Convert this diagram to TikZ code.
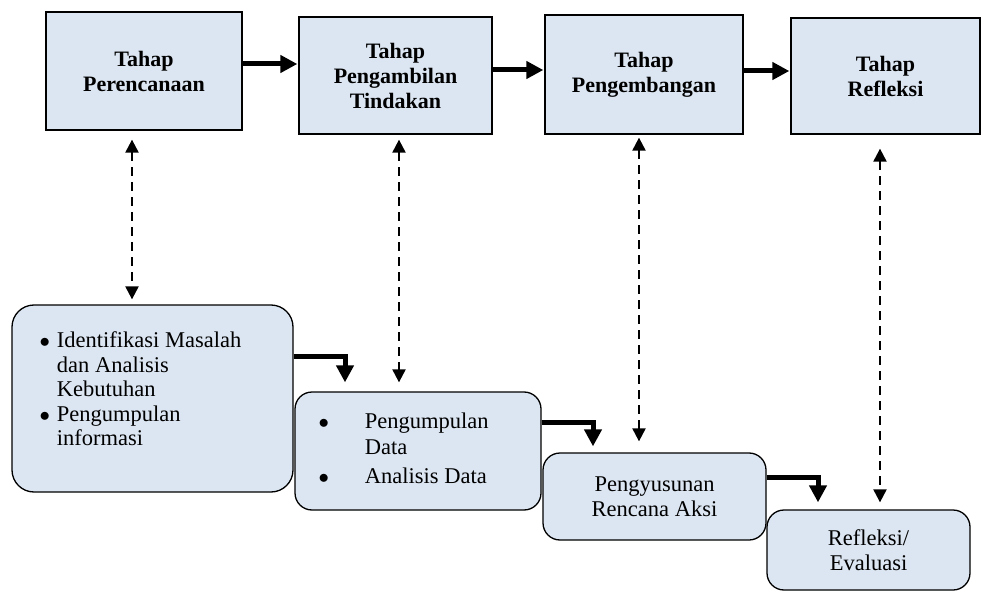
\documentclass[tikz,border=0pt]{standalone}
\usepackage{fontspec}
\setmainfont{Liberation Serif}
\usetikzlibrary{arrows.meta}
\definecolor{boxblue}{RGB}{220,230,242}

\begin{document}
\begin{tikzpicture}[x=1pt,y=-1pt,line join=miter]
        \tikzstyle{stage}=[rectangle,draw=black,line width=1.3pt,fill=boxblue,align=center,inner sep=0pt,font=\fontsize{22}{25}\selectfont\bfseries]
        \tikzstyle{activity}=[stage,rounded corners=17pt,font=\fontsize{22.5}{25}\selectfont]
        \tikzstyle{list}=[inner sep=0pt,font=\fontsize{22.5}{24.5}\selectfont]
        \tikzstyle{flow}=[-{Triangle[length=17pt,width=17pt]},line width=5pt,shorten >=1pt]
        \tikzstyle{link}=[{Triangle[length=13pt,width=13pt]}-{Triangle[length=13pt,width=13pt]},line width=2.2pt,dash pattern=on 9pt off 6pt]

        \useasboundingbox (0,0) rectangle (983,591);

        % Draw the stages on top
        \node[stage,minimum width=196pt,minimum height=118pt] (T-1) at (144,71) {Tahap\\Perencanaan};
        \node[stage,minimum width=193pt,minimum height=117pt] (T-2) at (395.5,75.5) {Tahap\\Pengambilan\\Tindakan};
        \node[stage,minimum width=198pt,minimum height=119pt] (T-3) at (644,74.5) {Tahap\\Pengembangan};
        \node[stage,minimum width=189pt,minimum height=116pt] (T-4) at (885.5,76) {Tahap\\Refleksi};

        % Draw the activities below
        \node[activity,rounded corners=22pt,minimum width=281pt,minimum height=187pt] (B-1) at (152.5,398.5) {};
        \node[activity,minimum width=246pt,minimum height=118pt] (B-2) at (418,451) {};
        \node[activity,minimum width=223pt,minimum height=87pt] (B-3) at (654.5,496.5) {Pengyusunan\\Rencana Aksi};
        \node[activity,minimum width=203pt,minimum height=80pt] (B-4) at (868.5,550) {Refleksi/\\Evaluasi};

        % Bullet lists inside the first two activities
        \node[list,anchor=north west] (L-1) at ([xshift=28pt,yshift=-26pt]B-1.north west)
            {\begin{tabular}{@{}l@{\hspace{7pt}}l@{}}
             $\bullet$ & Identifikasi Masalah\\
                       & dan Analisis\\
                       & Kebutuhan\\
             $\bullet$ & Pengumpulan\\
                       & informasi
             \end{tabular}};
        \node[list,anchor=north west] (L-2) at ([xshift=24pt,yshift=-20pt]B-2.north west)
            {\begin{tabular}{@{}l@{\hspace{36pt}}l@{}}
             $\bullet$ & Pengumpulan\\[1.5pt]
                       & Data\\[4.5pt]
             $\bullet$ & Analisis Data
             \end{tabular}};

        % Connect the stages one after the other
        \draw[flow] ([yshift=7pt]T-1.east) -- ([yshift=7pt]T-1.east -| T-2.west);
        \draw[flow] ([yshift=5.5pt]T-2.east) -- ([yshift=5.5pt]T-2.east -| T-3.west);
        \draw[flow] ([yshift=3.5pt]T-3.east) -- ([yshift=3.5pt]T-3.east -| T-4.west);

        % Connect the activities one after the other
        \draw[flow,shorten >=9pt] ([yshift=42.5pt]B-1.east) -| ([xshift=-73pt]B-2.north);
        \draw[flow,shorten >=6pt] ([yshift=29pt]B-2.east) -| ([xshift=-61.5pt]B-3.north);
        \draw[flow,shorten >=7pt] ([yshift=19.5pt]B-3.east) -| ([xshift=-50.5pt]B-4.north);

        % Link every stage with its activity
        \foreach \i / \dx / \s / \e in {1/-12/9/5, 2/3.5/5/9, 3/-5/3/11, 4/-5.5/14/7}
            \draw[link,shorten <=\s pt,shorten >=\e pt] ([xshift=\dx pt]T-\i.south) -- ([xshift=\dx pt]T-\i.south |- B-\i.north);
\end{tikzpicture}
\end{document}
